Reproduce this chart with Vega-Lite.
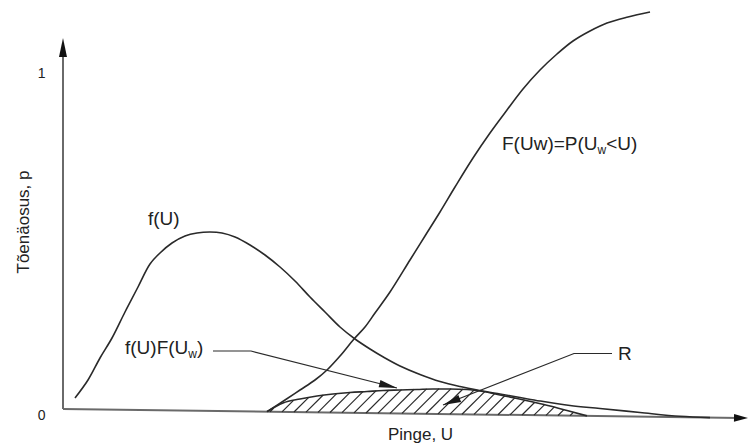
{
  "$schema": "https://vega.github.io/schema/vega-lite/v6.json",
  "width": 685,
  "height": 410,
  "autosize": {"type": "none"},
  "padding": {"left": 63, "top": 10, "right": 0, "bottom": 25},
  "background": "white",
  "config": {"font": "Liberation Sans", "view": {"stroke": null}},
  "datasets": {
    "curves": [
      {"s": "fU", "U": 1.2, "p": 0.0327}, {"s": "fU", "U": 2.5, "p": 0.0863}, {"s": "fU", "U": 3.7, "p": 0.1518},
      {"s": "fU", "U": 4.9, "p": 0.2113}, {"s": "fU", "U": 6.2, "p": 0.2887}, {"s": "fU", "U": 7.5, "p": 0.3631},
      {"s": "fU", "U": 8.7, "p": 0.4315}, {"s": "fU", "U": 9.7, "p": 0.4643}, {"s": "fU", "U": 10.9, "p": 0.494},
      {"s": "fU", "U": 12.2, "p": 0.5149}, {"s": "fU", "U": 13.4, "p": 0.5238}, {"s": "fU", "U": 14.7, "p": 0.5268},
      {"s": "fU", "U": 15.9, "p": 0.5238}, {"s": "fU", "U": 17.2, "p": 0.5119}, {"s": "fU", "U": 18.7, "p": 0.4881},
      {"s": "fU", "U": 20.2, "p": 0.4583}, {"s": "fU", "U": 21.7, "p": 0.4226}, {"s": "fU", "U": 23.2, "p": 0.381},
      {"s": "fU", "U": 24.7, "p": 0.3333}, {"s": "fU", "U": 26.2, "p": 0.2887}, {"s": "fU", "U": 27.7, "p": 0.244},
      {"s": "fU", "U": 29.2, "p": 0.2083}, {"s": "fU", "U": 30.7, "p": 0.1786}, {"s": "fU", "U": 32.2, "p": 0.1518},
      {"s": "fU", "U": 33.7, "p": 0.128}, {"s": "fU", "U": 35.7, "p": 0.1027}, {"s": "fU", "U": 37.7, "p": 0.0818},
      {"s": "fU", "U": 39.7, "p": 0.067}, {"s": "fU", "U": 41.7, "p": 0.0551}, {"s": "fU", "U": 43.7, "p": 0.0446},
      {"s": "fU", "U": 45.7, "p": 0.0342}, {"s": "fU", "U": 47.7, "p": 0.0238}, {"s": "fU", "U": 50.7, "p": 0.0104},
      {"s": "fU", "U": 53.7, "p": 0.0015}, {"s": "fU", "U": 57.7, "p": -0.0104}, {"s": "fU", "U": 61.7, "p": -0.0217},
      {"s": "fU", "U": 64.7, "p": -0.0256},
      {"s": "FUw", "U": 20.4, "p": -0.008}, {"s": "FUw", "U": 22.2, "p": 0.0268}, {"s": "FUw", "U": 23.7, "p": 0.0565},
      {"s": "FUw", "U": 25.2, "p": 0.0863}, {"s": "FUw", "U": 26.4, "p": 0.1161}, {"s": "FUw", "U": 27.7, "p": 0.1577},
      {"s": "FUw", "U": 29.1, "p": 0.2083}, {"s": "FUw", "U": 30.2, "p": 0.244}, {"s": "FUw", "U": 31.2, "p": 0.2857},
      {"s": "FUw", "U": 32.7, "p": 0.3482}, {"s": "FUw", "U": 34.7, "p": 0.4435}, {"s": "FUw", "U": 36.2, "p": 0.5149},
      {"s": "FUw", "U": 37.7, "p": 0.5863}, {"s": "FUw", "U": 39.2, "p": 0.6607}, {"s": "FUw", "U": 41.0, "p": 0.747},
      {"s": "FUw", "U": 42.7, "p": 0.8214}, {"s": "FUw", "U": 44.4, "p": 0.8899}, {"s": "FUw", "U": 46.0, "p": 0.9524},
      {"s": "FUw", "U": 47.7, "p": 1.0089}, {"s": "FUw", "U": 49.4, "p": 1.0565}, {"s": "FUw", "U": 51.0, "p": 1.0952},
      {"s": "FUw", "U": 52.7, "p": 1.125}, {"s": "FUw", "U": 54.4, "p": 1.1488}, {"s": "FUw", "U": 56.5, "p": 1.1667},
      {"s": "FUw", "U": 58.7, "p": 1.1815},
      {"s": "ht", "U": 20.4, "p": -0.008}, {"s": "ht", "U": 22.0, "p": 0.0179}, {"s": "ht", "U": 23.7, "p": 0.0298},
      {"s": "ht", "U": 25.4, "p": 0.0387}, {"s": "ht", "U": 27.0, "p": 0.0446}, {"s": "ht", "U": 28.7, "p": 0.0491},
      {"s": "ht", "U": 30.4, "p": 0.0521}, {"s": "ht", "U": 32.0, "p": 0.0551}, {"s": "ht", "U": 33.7, "p": 0.0565},
      {"s": "ht", "U": 35.4, "p": 0.058}, {"s": "ht", "U": 37.0, "p": 0.0595}, {"s": "ht", "U": 38.7, "p": 0.0595},
      {"s": "ht", "U": 40.4, "p": 0.058}, {"s": "ht", "U": 42.0, "p": 0.0521}, {"s": "ht", "U": 43.7, "p": 0.0417},
      {"s": "ht", "U": 45.4, "p": 0.0313}, {"s": "ht", "U": 47.0, "p": 0.0208}, {"s": "ht", "U": 48.7, "p": 0.0089},
      {"s": "ht", "U": 50.4, "p": -0.0045}, {"s": "ht", "U": 52.4, "p": -0.0205},
      {"s": "yaxis", "U": 0, "p": 0}, {"s": "yaxis", "U": 0, "p": 1.07},
      {"s": "xaxis", "U": 0, "p": 0}, {"s": "xaxis", "U": 67.7, "p": -0.0265},
      {"s": "lead1", "U": 15.0, "p": 0.1726}, {"s": "lead1", "U": 18.8, "p": 0.1726}, {"s": "lead1", "U": 33.4, "p": 0.0625},
      {"s": "lead2", "U": 38.0, "p": 0.0119}, {"s": "lead2", "U": 51.1, "p": 0.1652}, {"s": "lead2", "U": 54.9, "p": 0.1652}
    ],
    "hatch": [
      {"U": 20.7, "p": -0.0081, "U2": 21.08, "p2": 0.0031},
      {"U": 21.9, "p": -0.0086, "U2": 23.05, "p2": 0.0256},
      {"U": 23.1, "p": -0.009, "U2": 24.57, "p2": 0.0348},
      {"U": 24.3, "p": -0.0095, "U2": 26.02, "p2": 0.0416},
      {"U": 25.5, "p": -0.01, "U2": 27.39, "p2": 0.0463},
      {"U": 26.7, "p": -0.0105, "U2": 28.73, "p2": 0.05},
      {"U": 27.9, "p": -0.0109, "U2": 30.02, "p2": 0.0523},
      {"U": 29.1, "p": -0.0114, "U2": 31.32, "p2": 0.0547},
      {"U": 30.3, "p": -0.0119, "U2": 32.59, "p2": 0.0564},
      {"U": 31.5, "p": -0.0123, "U2": 33.85, "p2": 0.0575},
      {"U": 32.7, "p": -0.0128, "U2": 35.11, "p2": 0.0588},
      {"U": 33.9, "p": -0.0132, "U2": 36.36, "p2": 0.06},
      {"U": 35.1, "p": -0.0137, "U2": 37.6, "p2": 0.0606},
      {"U": 36.3, "p": -0.0142, "U2": 38.81, "p2": 0.0605},
      {"U": 37.5, "p": -0.0147, "U2": 39.99, "p2": 0.0594},
      {"U": 38.7, "p": -0.0152, "U2": 41.1, "p2": 0.0563},
      {"U": 39.9, "p": -0.0156, "U2": 42.18, "p2": 0.0519},
      {"U": 41.1, "p": -0.0161, "U2": 43.17, "p2": 0.0456},
      {"U": 42.3, "p": -0.0166, "U2": 44.18, "p2": 0.0394},
      {"U": 43.5, "p": -0.017, "U2": 45.18, "p2": 0.033},
      {"U": 44.7, "p": -0.0175, "U2": 46.19, "p2": 0.0268},
      {"U": 45.9, "p": -0.018, "U2": 47.18, "p2": 0.0201},
      {"U": 47.1, "p": -0.0184, "U2": 48.16, "p2": 0.0131},
      {"U": 48.3, "p": -0.0189, "U2": 49.14, "p2": 0.0061},
      {"U": 49.5, "p": -0.0194, "U2": 50.09, "p2": -0.0018},
      {"U": 50.7, "p": -0.0198, "U2": 51.05, "p2": -0.0096}
    ],
    "arrows": [
      {"a": "l1", "U": 33.4, "p": 0.0625},
      {"a": "l2", "U": 38.0, "p": 0.0119},
      {"a": "ya", "U": 0, "p": 1.1042},
      {"a": "xa", "U": 68.5, "p": -0.0268}
    ],
    "labels": [
      {"k": "main", "t": "f(U)", "U": 8.5, "p": 0.5476},
      {"k": "main", "t": "F(Uw)=P(U", "U": 43.9, "p": 0.7708},
      {"k": "sub", "t": "w", "U": 53.45, "p": 0.7589},
      {"k": "main", "t": "<U)", "U": 54.32, "p": 0.7708},
      {"k": "main", "t": "f(U)F(U", "U": 6.2, "p": 0.1637},
      {"k": "sub", "t": "w", "U": 12.53, "p": 0.1518},
      {"k": "main", "t": ")", "U": 13.4, "p": 0.1637},
      {"k": "main", "t": "R", "U": 55.5, "p": 0.1458}
    ]
  },
  "encoding": {
    "x": {
      "field": "U", "type": "quantitative",
      "scale": {"domain": [0, 68.5], "nice": false, "zero": false},
      "axis": {
        "domain": false, "ticks": false, "labels": false, "grid": false,
        "title": "Pinge, U", "titleFontSize": 17, "titleFontWeight": "normal", "titleColor": "#222",
        "titleFont": "Liberation Sans", "titleX": 357, "titleY": 19, "titleAlign": "center", "titleBaseline": "alphabetic"
      }
    },
    "y": {
      "field": "p", "type": "quantitative",
      "scale": {"domain": [-0.032738, 1.1875], "nice": false, "zero": false},
      "axis": {
        "values": [-0.0208, 1],
        "labelExpr": "datum.value > 0.5 ? '1' : '0'",
        "domain": false, "ticks": false, "grid": false,
        "labelFontSize": 14, "labelColor": "#222", "labelPadding": 18, "labelFont": "Liberation Sans",
        "title": "Tõenäosus, p", "titleFontSize": 17, "titleFontWeight": "normal", "titleColor": "#222",
        "titleFont": "Liberation Sans", "titleX": -35, "titleY": 211.5, "titleAngle": -90, "titleAlign": "center", "titleBaseline": "alphabetic"
      }
    }
  },
  "layer": [
    {
      "data": {"name": "curves"},
      "transform": [{"filter": {"field": "s", "oneOf": ["yaxis", "xaxis"]}}],
      "mark": {"type": "line", "color": "#6a6a6a", "strokeWidth": 2},
      "encoding": {"detail": {"field": "s"}}
    },
    {
      "data": {"name": "curves"},
      "transform": [{"filter": {"field": "s", "oneOf": ["fU", "FUw"]}}],
      "mark": {"type": "line", "color": "#2a2a2a", "strokeWidth": 1.6, "interpolate": "catmull-rom"},
      "encoding": {"detail": {"field": "s"}}
    },
    {
      "data": {"name": "curves"},
      "transform": [{"filter": {"field": "s", "equal": "ht"}}],
      "mark": {"type": "line", "color": "#2a2a2a", "strokeWidth": 1.6, "interpolate": "monotone"},
      "encoding": {}
    },
    {
      "data": {"name": "curves"},
      "transform": [{"filter": {"field": "s", "oneOf": ["lead1", "lead2"]}}],
      "mark": {"type": "line", "color": "#2a2a2a", "strokeWidth": 1.2},
      "encoding": {"detail": {"field": "s"}}
    },
    {
      "data": {"name": "hatch"},
      "mark": {"type": "rule", "color": "#2a2a2a", "strokeWidth": 1.2},
      "encoding": {"x2": {"field": "U2"}, "y2": {"field": "p2"}}
    },
    {
      "data": {"name": "arrows"},
      "transform": [{"filter": {"field": "a", "equal": "l1"}}],
      "mark": {"type": "point", "shape": "M0,0L-2,-0.42L-2,0.42Z", "filled": true, "color": "#1a1a1a", "opacity": 1, "size": 324, "angle": 14}
    },
    {
      "data": {"name": "arrows"},
      "transform": [{"filter": {"field": "a", "equal": "l2"}}],
      "mark": {"type": "point", "shape": "M0,0L-2,-0.42L-2,0.42Z", "filled": true, "color": "#1a1a1a", "opacity": 1, "size": 324, "angle": 158.5}
    },
    {
      "data": {"name": "arrows"},
      "transform": [{"filter": {"field": "a", "equal": "ya"}}],
      "mark": {"type": "point", "shape": "M0,0L-2,-0.42L-2,0.42Z", "filled": true, "color": "#111", "opacity": 1, "size": 361, "angle": -90}
    },
    {
      "data": {"name": "arrows"},
      "transform": [{"filter": {"field": "a", "equal": "xa"}}],
      "mark": {"type": "point", "shape": "M0,0L-2,-0.55L-2,0.55Z", "filled": true, "color": "#111", "opacity": 1, "size": 196, "angle": 0.75}
    },
    {
      "data": {"name": "labels"},
      "transform": [{"filter": {"field": "k", "equal": "main"}}],
      "mark": {"type": "text", "align": "left", "baseline": "alphabetic", "fontSize": 19, "color": "#222", "font": "Liberation Sans"},
      "encoding": {"text": {"field": "t"}}
    },
    {
      "data": {"name": "labels"},
      "transform": [{"filter": {"field": "k", "equal": "sub"}}],
      "mark": {"type": "text", "align": "left", "baseline": "alphabetic", "fontSize": 12, "color": "#222", "font": "Liberation Sans"},
      "encoding": {"text": {"field": "t"}}
    }
  ]
}
